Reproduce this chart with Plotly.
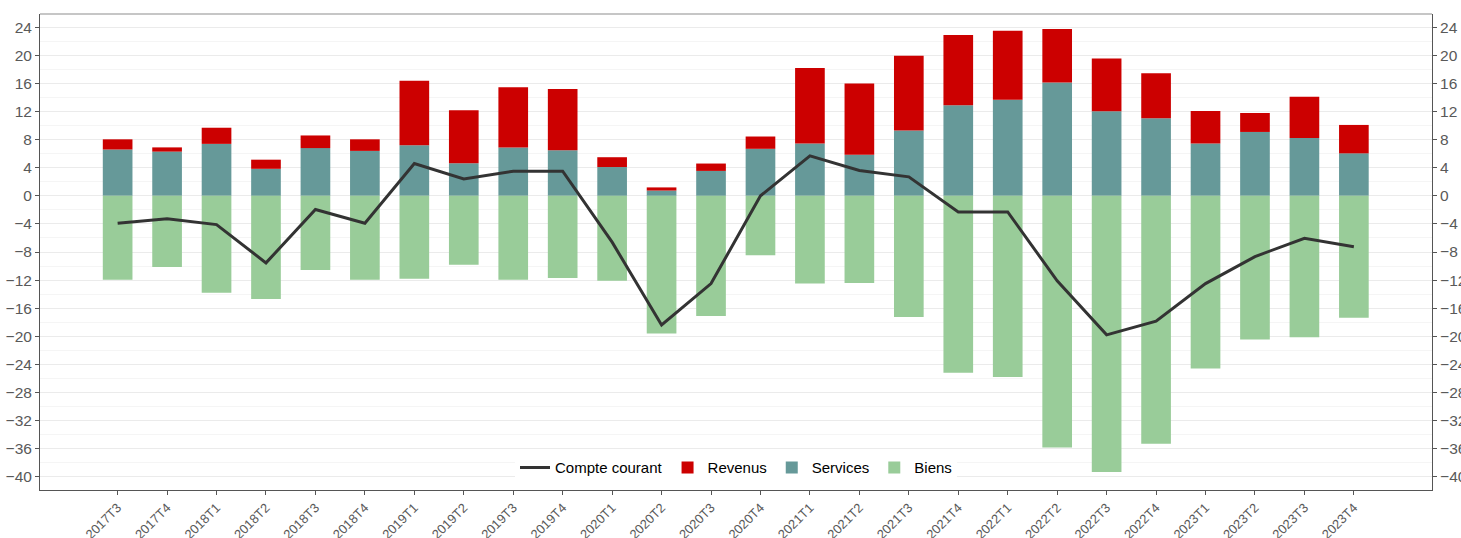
import plotly.graph_objects as go

quarters = ["2017T3","2017T4","2018T1","2018T2","2018T3","2018T4",
            "2019T1","2019T2","2019T3","2019T4","2020T1","2020T2","2020T3","2020T4",
            "2021T1","2021T2","2021T3","2021T4","2022T1","2022T2","2022T3","2022T4",
            "2023T1","2023T2","2023T3","2023T4"]

services = [6.6, 6.3, 7.4, 3.85, 6.8, 6.4, 7.2, 4.65, 6.9, 6.5, 4.1, 0.75, 3.55, 6.7,
            7.45, 5.85, 9.3, 12.9, 13.7, 16.15, 12.05, 11.05, 7.45, 9.1, 8.25, 6.05]
revenus = [1.45, 0.6, 2.3, 1.3, 1.8, 1.65, 9.2, 7.55, 8.55, 8.7, 1.4, 0.45, 1.05, 1.75,
           10.75, 10.15, 10.65, 10.0, 9.8, 7.6, 7.5, 6.4, 4.65, 2.7, 5.85, 4.05]
biens = [-11.95, -10.15, -13.8, -14.7, -10.55, -11.95, -11.8, -9.8, -11.95, -11.7, -12.1,
         -19.6, -17.1, -8.45, -12.5, -12.4, -17.25, -25.2, -25.8, -35.85, -39.35, -35.3,
         -24.6, -20.45, -20.15, -17.35]
compte_courant = [-3.9, -3.25, -4.1, -9.55, -1.95, -3.9, 4.6, 2.4, 3.5, 3.5, -6.6,
                  -18.4, -12.5, 0.0, 5.7, 3.6, 2.7, -2.3, -2.3, -12.1, -19.8, -17.85,
                  -12.5, -8.65, -6.05, -7.25]

C_RED = "#CC0000"
C_TEAL = "#669999"
C_GREEN = "#99CC99"
C_LINE = "#333333"

fig = go.Figure()
fig.add_trace(go.Bar(x=quarters, y=services, name="Services", marker_color=C_TEAL,
                     width=0.6, legendrank=3, marker_line_width=0))
fig.add_trace(go.Bar(x=quarters, y=revenus, name="Revenus", marker_color=C_RED,
                     width=0.6, legendrank=2, marker_line_width=0))
fig.add_trace(go.Bar(x=quarters, y=biens, name="Biens", marker_color=C_GREEN,
                     width=0.6, legendrank=4, marker_line_width=0))
fig.add_trace(go.Scatter(x=quarters, y=compte_courant, name="Compte courant", mode="lines",
                         line=dict(color=C_LINE, width=3), legendrank=1))
# invisible trace to activate right axis
fig.add_trace(go.Scatter(x=quarters, y=compte_courant, yaxis="y2", mode="lines",
                         line=dict(width=0), opacity=0, showlegend=False, hoverinfo="skip"))

yr = [-41.9, 25.9]
FONT = "Liberation Sans, Arial"
tickfont = dict(family=FONT, size=15.5, color="#595959")
fig.update_layout(
    width=1461, height=538,
    margin=dict(l=40, r=29, t=14, b=48),
    paper_bgcolor="white", plot_bgcolor="white",
    barmode="relative", bargap=0.4,
    showlegend=True,
    legend=dict(orientation="h", x=0.5, xanchor="center", y=0.047, yanchor="middle",
                bgcolor="white", font=dict(family=FONT, size=15, color="black"),
                traceorder="normal", itemwidth=30),
    xaxis=dict(type="category", range=[-1.57, 26.58], tickangle=-45, automargin=False,
               tickfont=dict(family=FONT, size=13, color="#595959"),
               showgrid=False, ticks="outside", ticklen=4, tickcolor="#555555",
               showline=True, linecolor="#555555", linewidth=1, mirror=False, zeroline=False),
    yaxis=dict(range=yr, tickvals=list(range(-40, 25, 4)), tickfont=tickfont, automargin=False,
               showgrid=True, gridcolor="#EBEBEB", gridwidth=1,
               minor=dict(tickvals=list(range(-42, 26, 2)), showgrid=True,
                          gridcolor="#F5F5F5", gridwidth=1),
               ticks="outside", ticklen=4, tickcolor="#555555",
               showline=True, linecolor="#555555", linewidth=1, zeroline=False),
    yaxis2=dict(range=yr, tickvals=list(range(-40, 25, 4)), tickfont=tickfont, automargin=False,
                overlaying="y", side="right", showgrid=False,
                ticks="outside", ticklen=4, tickcolor="#555555",
                showline=True, linecolor="#555555", linewidth=1, zeroline=False),
    shapes=[dict(type="line", xref="paper", yref="paper", x0=0, x1=1, y0=1, y1=1,
                 line=dict(color="#B3B3B3", width=1.5))],
)

fig.write_html("out.html", config={"displayModeBar": False},
               post_script="document.body.style.margin='0';document.body.style.overflow='hidden';")
